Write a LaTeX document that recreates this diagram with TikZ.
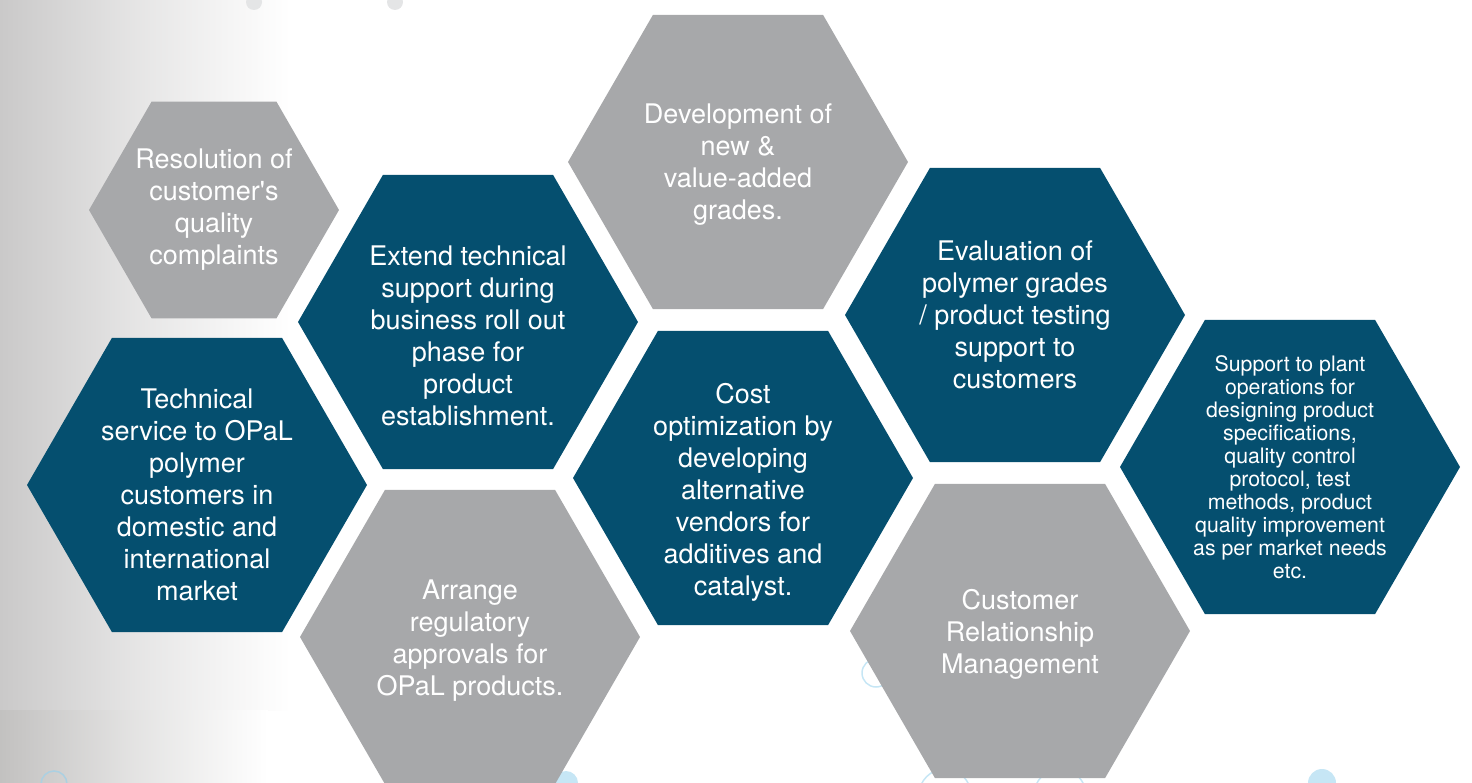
\documentclass[tikz,border=0pt]{standalone}
\usepackage{fontspec}
\setmainfont{TeX Gyre Heros}
\usetikzlibrary{%
  shapes.geometric
}
\definecolor{hexBlue}{HTML}{054F6F}
\definecolor{hexGray}{HTML}{A7A8AA}
\definecolor{bgGray}{HTML}{CAC9C9}
\definecolor{bgDark}{HTML}{C2C1C0}
\definecolor{dotGray}{HTML}{E4E5E6}
\definecolor{dotBlue}{HTML}{C6E6F5}
\definecolor{ringBlue}{HTML}{ABD0E2}
\tikzset{
  hex/.style={regular polygon, regular polygon sides=6, minimum size=340pt, inner sep=0pt, draw=none},
  hexblue/.style={hex, fill=hexBlue},
  hexgray/.style={hex, fill=hexGray},
  hextext/.style={text=white, align=center, font=\fontsize{27}{32}\selectfont},
  smalltext/.style={text=white, align=center, font=\fontsize{21.3}{23}\selectfont},
}

\begin{document}
\begin{tikzpicture}[x=1pt,y=-1pt]
\useasboundingbox (0,0) rectangle (1472,783);
%%%background
\fill[left color=bgGray, right color=white, middle color=bgGray!45!white] (0,0) rectangle (290,710);
\fill[left color=bgDark, right color=white, middle color=bgDark!45!white] (0,710) rectangle (268,783);
\fill[dotGray] (254,2) circle (8);
\fill[dotGray] (395,2) circle (8);
\draw[ringBlue, line width=1.5pt] (54,784) circle (13);
\fill[dotBlue] (566,783) circle (12);
\draw[dotBlue, line width=1.5pt] (876,673) circle (14);
\draw[dotBlue, line width=1.5pt] (945,795) circle (26);
\draw[dotBlue, line width=1.5pt] (1060,795) circle (26);
\fill[dotBlue] (1322,783) circle (14);

%%%grey hexagons
\node[hexgray, minimum size=250pt, label={[hextext]center:{Resolution of\\customer\textquotesingle s\\quality\\complaints}}] (resolution) at (214,210) {};
\node[hexgray, label={[hextext,yshift=-4pt]center:{Arrange\\regulatory\\approvals for\\OPaL products.}}] (regulatory) at (470,637) {};
\node[hexgray, label={[hextext,yshift=-3pt]center:{Development of\\new \&\\value-added\\grades.}}] (development) at (738,162) {};
\node[hexgray, label={[hextext,yshift=-3pt]center:{Customer\\Relationship\\Management}}] (relationship) at (1020,631) {};

%%%blue hexagons
\node[hexblue, label={[hextext,yshift=-10pt]center:{Technical\\service to OPaL\\polymer\\customers in\\domestic and\\international\\market}}] (service) at (197,485) {};
\node[hexblue, label={[hextext,yshift=-14pt]center:{Extend technical\\support during\\business roll out\\phase for\\product\\establishment.}}] (extend) at (468,322) {};
\node[hexblue, label={[hextext,yshift=-14pt]center:{Cost\\optimization by\\developing\\alternative\\vendors for\\additives and\\catalyst.}}] (cost) at (743,478) {};
\node[hexblue, label={[hextext]center:{Evaluation of\\polymer grades\\/ product testing\\support to\\customers}}] (evaluation) at (1015,315) {};
\node[hexblue, label={[smalltext]center:{Support to plant\\operations for\\designing product\\specifications,\\quality control\\protocol, test\\methods, product\\quality improvement\\as per market needs\\etc.}}] (plant) at (1290,467) {};

\end{tikzpicture}
\end{document}
